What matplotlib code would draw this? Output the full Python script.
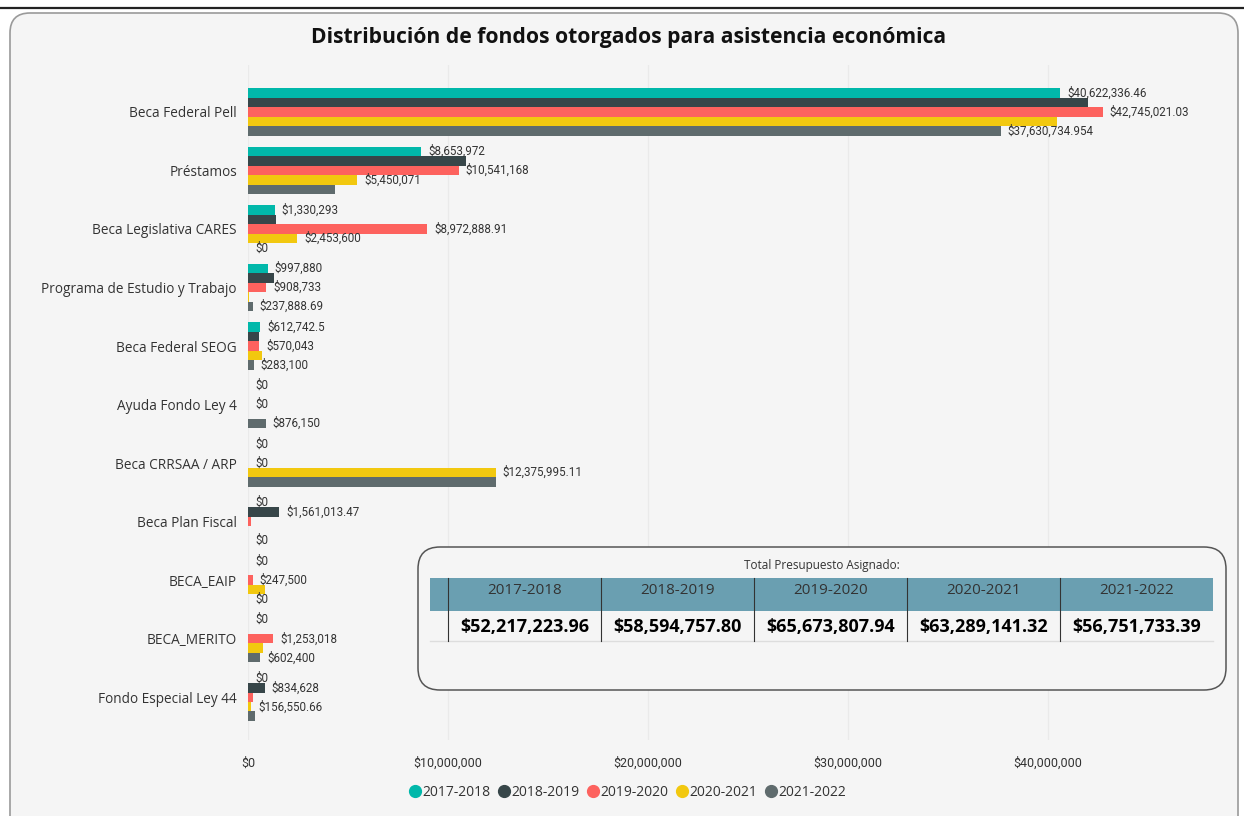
import matplotlib.pyplot as plt
import numpy as np
from matplotlib.patches import FancyBboxPatch, Rectangle
from matplotlib.lines import Line2D

categories = ['Beca Federal Pell', 'Préstamos', 'Beca Legislativa CARES',
              'Programa de Estudio y Trabajo', 'Beca Federal SEOG', 'Ayuda Fondo Ley 4',
              'Beca CRRSAA / ARP', 'Beca Plan Fiscal', 'BECA_EAIP', 'BECA_MERITO',
              'Fondo Especial Ley 44']
years = ['2017-2018', '2018-2019', '2019-2020', '2020-2021', '2021-2022']

v_1718 = [40622336.46, 8653972, 1330293, 997880, 612742.5, 0, 0, 0, 0, 0, 0]
v_1819 = [42000000, 10880000, 1400000, 1290000, 560000, 0, 0, 1561013.47, 0, 0, 834628]
v_1920 = [42745021.03, 10541168, 8972888.91, 908733, 570043, 0, 0, 165436, 247500, 1253018, 270000]
v_2021 = [40450000, 5450071, 2453600, 50000, 700000, 0, 12375995.11, 0, 850000, 750000, 156550.66]
v_2122 = [37630734.954, 4360000, 0, 237888.69, 283100, 876150, 12410000, 0, 0, 602400, 351459.75]
series = [v_1718, v_1819, v_1920, v_2021, v_2122]

# data labels hidden by the original (overlap), as (category, series)
hidden = {(0, 1), (0, 3), (1, 1), (1, 4), (2, 1), (3, 1), (3, 3), (4, 1), (4, 3),
          (5, 1), (5, 3), (6, 1), (6, 4), (7, 2), (7, 3), (8, 1), (8, 3),
          (9, 1), (9, 3), (10, 2), (10, 4)}

totals = ['$52,217,223.96', '$58,594,757.80', '$65,673,807.94', '$63,289,141.32', '$56,751,733.39']

colors = ['#01B8AA', '#374649', '#FD625E', '#F2C80F', '#5F6B6D']
bg = '#f5f5f5'


def money(v):
    s = f"{v:,.3f}".rstrip('0').rstrip('.')
    return '$' + s


plt.rcParams['font.family'] = ['Open Sans', 'DejaVu Sans']

W, H = 12.44, 8.16
fig = plt.figure(figsize=(W, H), dpi=100)
fig.patch.set_facecolor('white')


def px(x, y):
    return x / 100, (816 - y) / 100


# top rule and outer rounded panel
fig.add_artist(Line2D([0, W], [px(0, 8)[1]] * 2, transform=fig.dpi_scale_trans,
                      color='#222222', lw=1.6, zorder=-1))
x0, y0 = px(10, 880)
panel = FancyBboxPatch((x0, y0), 12.28, px(0, 13)[1] - y0,
                       boxstyle='round,pad=0,rounding_size=0.2',
                       transform=fig.dpi_scale_trans, facecolor=bg,
                       edgecolor='#9a9a9a', lw=1.2, zorder=-1)
fig.add_artist(panel)

fig.text(629 / 1244, 1 - 38 / 816, 'Distribución de fondos otorgados para asistencia económica',
         ha='center', va='center', fontsize=15.2, fontweight='bold', color='#111111')

ax = fig.add_axes([248 / 1244, 1 - 740 / 816, 987 / 1244, 675 / 816])
ax.set_facecolor('none')
ax.set_zorder(1)

n = len(categories)
y = np.arange(n)
bh = 0.162
for j, vals in enumerate(series):
    yy = y - 2 * bh + j * bh
    ax.barh(yy, vals, height=bh, color=colors[j], label=years[j], zorder=3)
    for i, v in enumerate(vals):
        if (i, j) in hidden:
            continue
        ax.annotate(money(v), (v, yy[i]), xytext=(5, 0), textcoords='offset points',
                    ha='left', va='center', fontsize=8.4, color='#333333',
                    family=['Roboto', 'DejaVu Sans'], zorder=4)

ax.set_xlim(0, 49.35e6)
ax.set_ylim(10.73, -0.80)
ax.set_yticks(y)
ax.set_yticklabels(categories, fontsize=9.8, color='#333333')
xt = np.arange(0, 50e6, 10e6)
ax.set_xticks(xt)
ax.set_xticklabels([money(t) for t in xt], fontsize=9, color='#333333',
                   family=['Roboto', 'DejaVu Sans'])
ax.tick_params(length=0)
ax.tick_params(axis='y', pad=8)
ax.tick_params(axis='x', pad=12)
ax.grid(axis='x', color='#eaeaea', lw=0.9, zorder=0)
for s in ax.spines.values():
    s.set_visible(False)

handles = [Line2D([], [], marker='o', ls='', color=c, markersize=8.5) for c in colors]
fig.legend(handles, years, loc='center', bbox_to_anchor=(627 / 1244, 1 - 792 / 816),
           ncol=5, frameon=False, fontsize=10, handletextpad=0.05, columnspacing=0.45,
           handlelength=1.0, labelcolor='#333333')

# summary table box
bx, by = px(418, 690)
box = FancyBboxPatch((bx, by), 8.08, 1.43, boxstyle='round,pad=0,rounding_size=0.22',
                     transform=fig.dpi_scale_trans, facecolor=bg, edgecolor='#555555',
                     lw=1.1, zorder=5)
fig.add_artist(box)
tx, ty = px(822, 565)
fig.text(tx / W, ty / H, 'Total Presupuesto Asignado:', ha='center', va='center',
         fontsize=8.5, color='#333333', zorder=6)

hx, hy = px(430, 611)
fig.add_artist(Rectangle((hx, hy), 7.83, 0.33, transform=fig.dpi_scale_trans,
                         facecolor='#6a9fb1', edgecolor='none', zorder=6))
col0 = 448
cw = 153.1
lx, ly = px(430, 641)
fig.add_artist(Line2D([lx, 12.13], [ly, ly], transform=fig.dpi_scale_trans,
                      color='#dddddd', lw=1, zorder=6))
for k in range(len(years)):
    cx = col0 + k * cw
    a, b = px(cx, 578)
    c, d = px(cx, 641)
    fig.add_artist(Line2D([a, c], [b, d], transform=fig.dpi_scale_trans,
                          color='#333333', lw=0.8, zorder=7))
    mx, my = px(cx + cw / 2, 591)
    fig.text(mx / W, my / H, years[k], ha='center', va='center', fontsize=11,
             color='#333333', zorder=7)
    mx, my = px(cx + cw / 2, 627)
    fig.text(mx / W, my / H, totals[k], ha='center', va='center', fontsize=13,
             fontweight='bold', color='#000000', zorder=7)

fig.savefig('out.png', dpi=100, facecolor='white')
